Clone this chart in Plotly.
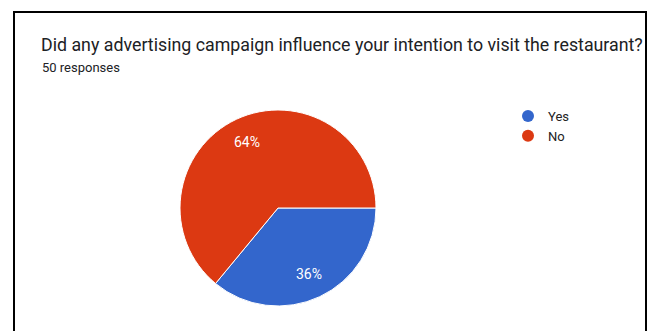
import math
import plotly.graph_objects as go

# Survey answers and counts (50 responses)
labels = ["Yes", "No"]
counts = [18, 32]
colors = ["#3366cc", "#dc3912"]

title_text = "Did any advertising campaign influence your intention to visit the restaurant?"
subtitle_text = "50 responses"

W, H = 652, 331

# Pie placement in pixels (centre and radius)
cx, cy, r = 278, 208, 98
label_radius = 0.745 * r

fig = go.Figure()

fig.add_trace(go.Pie(
    labels=labels,
    values=counts,
    marker=dict(colors=colors, line=dict(color="white", width=1)),
    sort=False,
    direction="clockwise",
    rotation=90,
    textinfo="none",
    hoverinfo="label+percent",
    showlegend=False,
    domain=dict(x=[(cx - r) / W, (cx + r) / W], y=[(H - cy - r) / H, (H - cy + r) / H]),
))

# Percentage labels placed at each slice's mid-angle (clockwise from 3 o'clock)
total = sum(counts)
annotations = []
start = 0.0
for v in counts:
    frac = v / total
    mid = (start + frac / 2) * 2 * math.pi
    px = cx + label_radius * math.cos(mid)
    py = cy + label_radius * math.sin(mid)
    annotations.append(dict(
        text=f"{round(frac * 100)}%", xref="paper", yref="paper",
        x=px / W, y=(H - py) / H, xanchor="center", yanchor="middle",
        showarrow=False,
        font=dict(family="Roboto, Arial, sans-serif", size=14, color="white"),
    ))
    start += frac

# Legend entries with round markers
for name, col in zip(labels, colors):
    fig.add_trace(go.Scatter(
        x=[None], y=[None], mode="markers", name=name,
        marker=dict(symbol="circle", size=12, color=col),
    ))

annotations += [
    dict(text=title_text, xref="paper", yref="paper",
         x=39 / W, y=(H - 44) / H, xanchor="left", yanchor="middle",
         showarrow=False,
         font=dict(family="Roboto, Arial, sans-serif", size=17.8, color="#202124")),
    dict(text=subtitle_text, xref="paper", yref="paper",
         x=40 / W, y=(H - 68) / H, xanchor="left", yanchor="middle",
         showarrow=False,
         font=dict(family="Roboto, Arial, sans-serif", size=13, color="#202124")),
]

fig.update_layout(
    width=W, height=H,
    margin=dict(l=0, r=0, t=0, b=0),
    paper_bgcolor="white",
    plot_bgcolor="white",
    xaxis=dict(visible=False),
    yaxis=dict(visible=False),
    legend=dict(
        x=508 / W, y=(H - 101) / H, xanchor="left", yanchor="top",
        font=dict(family="Roboto, Arial, sans-serif", size=13, color="#222222"),
        itemsizing="constant",
        itemwidth=30,
        bgcolor="rgba(0,0,0,0)",
    ),
    shapes=[dict(
        type="rect", xref="paper", yref="paper",
        x0=14 / W, x1=646 / W, y0=-0.1, y1=(H - 12) / H,
        line=dict(color="black", width=2), fillcolor="rgba(0,0,0,0)",
    )],
    annotations=annotations,
)

fig.write_html("out.html")
